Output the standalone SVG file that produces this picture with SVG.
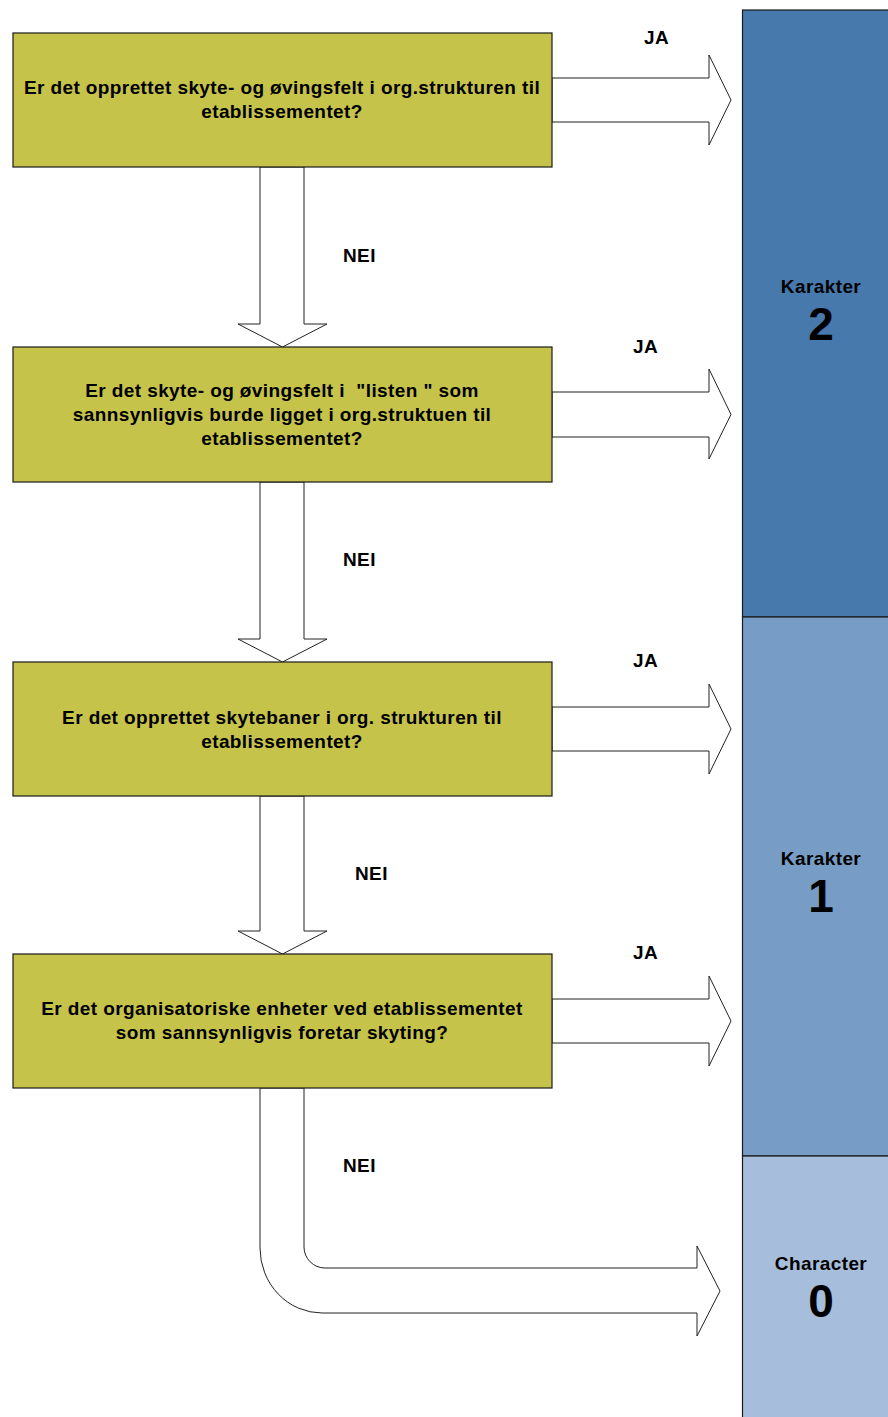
<svg xmlns="http://www.w3.org/2000/svg" width="888" height="1417" viewBox="0 0 888 1417">
<style>
.box{fill:#C6C34B;stroke:#1a1a1a;stroke-width:1.2}
.t{font-family:"Liberation Sans",Arial,sans-serif;font-weight:bold;font-size:19px;letter-spacing:0.4px;fill:#000;text-anchor:middle}
.lbl{font-family:"Liberation Sans",Arial,sans-serif;font-weight:bold;font-size:19px;letter-spacing:0.4px;fill:#000}
.big{font-family:"Liberation Sans",Arial,sans-serif;font-weight:bold;font-size:46px;fill:#000;text-anchor:middle}
.arr{fill:#fff;stroke:#222;stroke-width:1}
.pan{stroke:#1a1a1a;stroke-width:1.2}
</style>
<g id="panels">
<rect class="pan" x="742.5" y="10" width="150" height="607" fill="#4779AD"/>
<rect class="pan" x="742.5" y="617" width="150" height="539" fill="#779DC6"/>
<rect class="pan" x="742.5" y="1156" width="150" height="270" fill="#A6BEDB"/>
<text class="t" x="821" y="293">Karakter</text>
<text class="big" x="821" y="340">2</text>
<text class="t" x="821" y="865">Karakter</text>
<text class="big" x="821" y="912">1</text>
<text class="t" x="821" y="1270">Character</text>
<text class="big" x="821" y="1317">0</text>
</g>
<g id="connectors">
<path class="arr" d="M552,78 H709 V55 L731,100 L709,145 V122 H552 Z"/>
<path class="arr" d="M552,392 H709 V369 L731,414.5 L709,459 V437 H552 Z"/>
<path class="arr" d="M552,707 H709 V684 L731,729 L709,774 V751 H552 Z"/>
<path class="arr" d="M552,999 H709 V976 L731,1021 L709,1066 V1043 H552 Z"/>
<path class="arr" d="M260,167 V324 H238 L282.5,347 L327,324 H304 V167 Z"/>
<path class="arr" d="M260,482 V639 H238 L282.5,662 L327,639 H304 V482 Z"/>
<path class="arr" d="M260,796 V931 H238 L282.5,954 L327,931 H304 V796 Z"/>
<path class="arr" d="M260,1088 V1248 A62,65 0 0 0 322,1313 H697 V1336 L720,1291 L697,1246 V1268 H325 A21,21 0 0 1 304,1247 V1088 Z"/>
<text class="lbl" x="644" y="44">JA</text>
<text class="lbl" x="633" y="353">JA</text>
<text class="lbl" x="633" y="667">JA</text>
<text class="lbl" x="633" y="959">JA</text>
<text class="lbl" x="343" y="262">NEI</text>
<text class="lbl" x="343" y="566">NEI</text>
<text class="lbl" x="355" y="880">NEI</text>
<text class="lbl" x="343" y="1172">NEI</text>
</g>
<g id="q1">
<rect class="box" x="13" y="33" width="539" height="134"/>
<text class="t" x="282" y="94">Er det opprettet skyte- og øvingsfelt i org.strukturen til</text>
<text class="t" x="282" y="118">etablissementet?</text>
</g>
<g id="q2">
<rect class="box" x="13" y="347" width="539" height="135"/>
<text class="t" x="282" y="397" xml:space="preserve" style="white-space:pre">Er det skyte- og øvingsfelt i  "listen " som</text>
<text class="t" x="282" y="421">sannsynligvis burde ligget i org.struktuen til</text>
<text class="t" x="282" y="445">etablissementet?</text>
</g>
<g id="q3">
<rect class="box" x="13" y="662" width="539" height="134"/>
<text class="t" x="282" y="724">Er det opprettet skytebaner i org. strukturen til</text>
<text class="t" x="282" y="748">etablissementet?</text>
</g>
<g id="q4">
<rect class="box" x="13" y="954" width="539" height="134"/>
<text class="t" x="282" y="1015">Er det organisatoriske enheter ved etablissementet</text>
<text class="t" x="282" y="1039">som sannsynligvis foretar skyting?</text>
</g>
</svg>
